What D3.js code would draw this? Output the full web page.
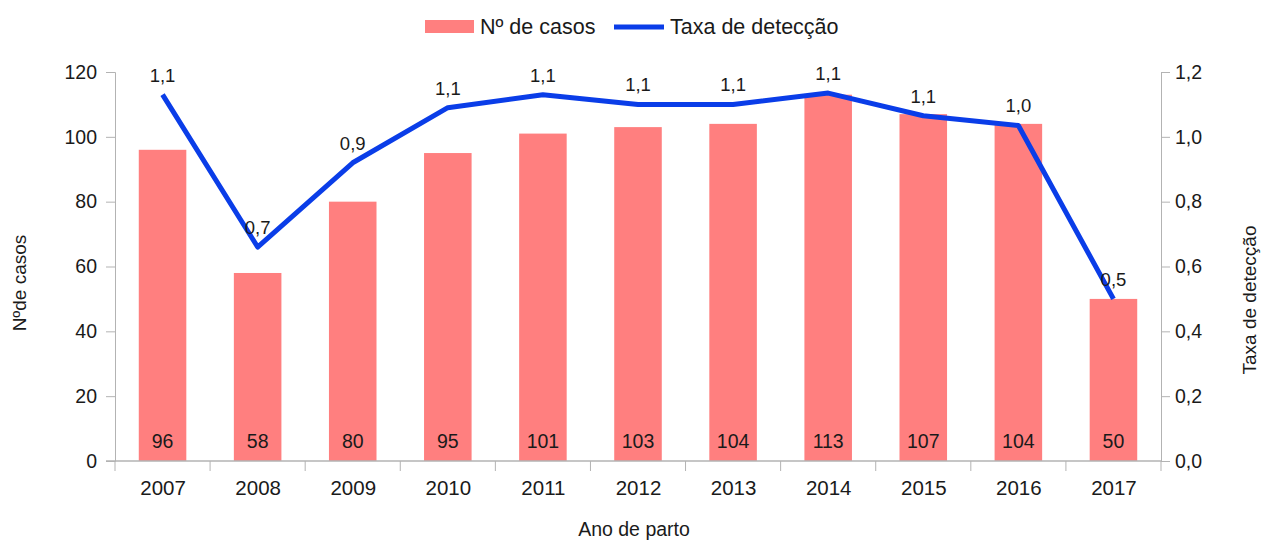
<html>
<head>
<script src="https://cdn.jsdelivr.net/npm/d3@7"></script>
<style>
  body { margin: 0; background: #fff; }
  text { font-family: "Liberation Sans", Arial, sans-serif; fill: #1a1a1a; }
</style>
</head>
<body>
<div id="chart"></div>
<script>
var years = ["2007", "2008", "2009", "2010", "2011", "2012", "2013", "2014", "2015", "2016", "2017"];
var casos = [96, 58, 80, 95, 101, 103, 104, 113, 107, 104, 50];
var taxa = [1.13, 0.66, 0.92, 1.09, 1.13, 1.10, 1.10, 1.135, 1.065, 1.035, 0.50];
var taxaLabels = ["1,1", "0,7", "0,9", "1,1", "1,1", "1,1", "1,1", "1,1", "1,1", "1,0", "0,5"];
var leftTicks = [0, 20, 40, 60, 80, 100, 120];
var rightTicks = [0, 0.2, 0.4, 0.6, 0.8, 1.0, 1.2];

var W = 1261, H = 542;
var plotL = 115, plotR = 1161, plotT = 72, plotB = 461;
var barColor = "#ff7f7f", lineColor = "#0a3de8", axisColor = "#b3b3b3";

var svg = d3.select("#chart").append("svg").attr("width", W).attr("height", H);

var x = d3.scaleBand().domain(years).range([plotL, plotR]).paddingInner(0.5).paddingOuter(0.25);
var yL = d3.scaleLinear().domain([0, 120]).range([plotB, plotT]);
var yR = d3.scaleLinear().domain([0, 1.2]).range([plotB, plotT]);

// bars
svg.selectAll("rect.bar").data(casos).enter().append("rect")
    .attr("class", "bar")
    .attr("x", function (d, i) { return x(years[i]); })
    .attr("y", function (d) { return yL(d); })
    .attr("width", x.bandwidth())
    .attr("height", function (d) { return plotB - yL(d); })
    .style("fill", barColor);

// bar value labels
svg.selectAll("text.barlab").data(casos).enter().append("text")
    .attr("x", function (d, i) { return x(years[i]) + x.bandwidth() / 2; })
    .attr("y", 448)
    .attr("text-anchor", "middle")
    .style("font-size", "19.5px")
    .text(function (d) { return d; });

// left axis
var gL = svg.append("g").attr("class", "yax").attr("transform", "translate(" + plotL + ",0)")
    .call(d3.axisLeft(yL).tickValues(leftTicks).tickSize(9).tickPadding(9));
// right axis
var gR = svg.append("g").attr("class", "yax").attr("transform", "translate(" + plotR + ",0)")
    .call(d3.axisRight(yR).tickValues(rightTicks).tickSize(9).tickPadding(5)
        .tickFormat(function (d) { return d3.format(".1f")(d).replace(".", ","); }));
// bottom axis
var xl = d3.scalePoint().domain(years).range([x(years[0]) + x.bandwidth() / 2, x(years[10]) + x.bandwidth() / 2]);
var gB = svg.append("g").attr("class", "xax").attr("transform", "translate(0," + plotB + ")")
    .call(d3.axisBottom(xl).tickSize(0).tickPadding(19));
gB.select(".domain").remove();
svg.append("line").attr("x1", plotL - 9).attr("x2", plotR).attr("y1", plotB).attr("y2", plotB)
    .style("stroke", axisColor).style("stroke-width", 1.5);
// category separators
var step = x.step();
svg.selectAll("line.sep").data(d3.range(12)).enter().append("line")
    .attr("x1", function (d) { return plotL + d * step; })
    .attr("x2", function (d) { return plotL + d * step; })
    .attr("y1", plotB).attr("y2", plotB + 10)
    .style("stroke", axisColor);

[gL, gR].forEach(function (g) {
  g.select(".domain").style("stroke", axisColor);
  g.selectAll(".tick line").style("stroke", axisColor);
});
svg.selectAll(".tick text").style("fill", "#1a1a1a")
    .style("font-family", "'Liberation Sans', Arial, sans-serif");
svg.selectAll(".yax .tick text").style("font-size", "19.5px");
svg.selectAll(".xax .tick text").style("font-size", "20.5px");

// line
var line = d3.line()
    .x(function (d, i) { return x(years[i]) + x.bandwidth() / 2; })
    .y(function (d) { return yR(d); });
svg.append("path").datum(taxa).attr("d", line)
    .style("fill", "none").style("stroke", lineColor).style("stroke-width", 5)
    .style("stroke-linejoin", "round");

svg.selectAll("text.linelab").data(taxa).enter().append("text")
    .attr("x", function (d, i) { return x(years[i]) + x.bandwidth() / 2; })
    .attr("y", function (d) { return yR(d) - 13; })
    .attr("text-anchor", "middle")
    .style("font-size", "18.5px")
    .text(function (d, i) { return taxaLabels[i]; });

// axis titles
svg.append("text").attr("transform", "translate(26,283) rotate(-90)")
    .attr("text-anchor", "middle").style("font-size", "19px").text("Nºde casos");
svg.append("text").attr("transform", "translate(1256,300) rotate(-90)")
    .attr("text-anchor", "middle").style("font-size", "19px").text("Taxa de detecção");
svg.append("text").attr("x", 634).attr("y", 536)
    .attr("text-anchor", "middle").style("font-size", "19.5px").text("Ano de parto");

// legend
svg.append("rect").attr("x", 425).attr("y", 20).attr("width", 49).attr("height", 13).style("fill", barColor);
svg.append("text").attr("x", 480).attr("y", 34).style("font-size", "21.5px").text("Nº de casos");
svg.append("line").attr("x1", 614).attr("x2", 664).attr("y1", 27).attr("y2", 27)
    .style("stroke", lineColor).style("stroke-width", 5);
svg.append("text").attr("x", 670).attr("y", 34).style("font-size", "21.5px").text("Taxa de detecção");
</script>
</body>
</html>
